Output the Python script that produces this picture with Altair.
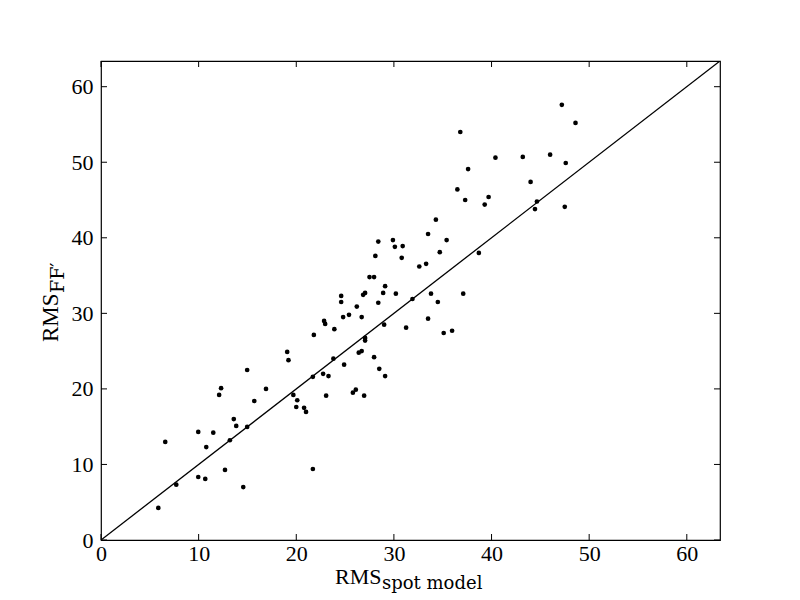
import altair as alt
import pandas as pd

# RMS spot model (x) vs RMS FF' (y)
rms_spot = [5.87, 6.58, 7.71, 9.96, 9.96, 10.68, 10.78, 11.5, 12.1, 12.3, 12.7, 13.2, 13.6, 13.85,
            14.57, 14.97, 14.97, 15.7, 16.9, 19.07, 19.2, 19.7, 20.1, 20.0, 20.8, 21.0, 21.7, 21.7,
            21.8, 22.75, 22.85, 22.96, 23.06, 23.3, 23.9, 23.8, 24.6, 24.6, 24.9, 24.8, 25.4, 25.8,
            26.1, 26.2, 26.4, 26.7, 26.7, 26.95, 27.05, 27.05, 26.85, 27.05, 27.97, 28.4, 28.5, 28.9,
            29.0, 29.1, 30.2, 31.25, 31.9, 33.8, 34.5, 33.5, 35.1, 35.96, 37.1, 27.5, 27.97, 28.1,
            28.4, 29.1, 29.9, 30.1, 30.9, 30.8, 32.6, 33.3, 33.5, 34.3, 34.7, 35.4, 36.5, 36.8,
            37.3, 37.6, 38.7, 39.3, 39.7, 40.4, 43.2, 44.0, 44.45, 44.65, 46.0, 47.2, 47.5, 47.6, 48.6]
rms_ff = [4.24, 12.98, 7.32, 14.3, 8.34, 8.08, 12.3, 14.2, 19.2, 20.1, 9.27, 13.2, 16.0, 15.1,
          7.0, 22.5, 14.97, 18.4, 20.0, 24.9, 23.8, 19.2, 18.5, 17.6, 17.5, 16.95, 9.4, 21.6,
          27.15, 22.0, 29.0, 28.6, 19.1, 21.7, 27.9, 24.0, 32.3, 31.5, 23.2, 29.5, 29.8, 19.5,
          19.9, 30.9, 24.8, 25.0, 29.5, 19.1, 26.75, 26.4, 32.45, 32.7, 24.2, 31.4, 22.65, 32.7,
          28.5, 21.7, 32.6, 28.1, 31.9, 32.6, 31.5, 29.3, 27.4, 27.7, 32.6, 34.8, 34.8, 37.6,
          39.5, 33.6, 39.7, 38.8, 38.9, 37.35, 36.2, 36.55, 40.5, 42.4, 38.1, 39.7, 46.4, 54.0,
          45.0, 49.1, 38.0, 44.4, 45.4, 50.6, 50.7, 47.4, 43.8, 44.8, 51.0, 57.6, 44.1, 49.9, 55.2]
tick_values = [0, 10, 20, 30, 40, 50, 60]
axis_max = 63.4
diag = [0, axis_max]

W, H = 619, 479
FONT = "Liberation Serif"
SUBFONT = "DejaVu Serif"

pts = pd.DataFrame({"x": rms_spot, "y": rms_ff})
ticks = pd.DataFrame({"x": tick_values, "y": tick_values})
line_df = pd.DataFrame({"x": diag, "y": diag})

xs = alt.Scale(domain=[0, axis_max], nice=False, zero=False)
ys = alt.Scale(domain=[0, axis_max], nice=False, zero=False)

xaxis = alt.Axis(values=tick_values, tickSize=0, domain=False, grid=False, title=None,
                 labelFont=FONT, labelFontSize=22, labelColor="black", labelPadding=3,
                 labelFlush=False, labelOverlap=False)
yaxis = alt.Axis(values=tick_values, tickSize=0, domain=False, grid=False, title=None,
                 labelFont=FONT, labelFontSize=22, labelColor="black", labelPadding=8,
                 labelFlush=False, labelOverlap=False)

X = alt.X("x:Q", scale=xs, axis=xaxis)
Y = alt.Y("y:Q", scale=ys, axis=yaxis)

points = alt.Chart(pts).mark_circle(size=22, color="black", opacity=1).encode(x=X, y=Y)

line = alt.Chart(line_df).mark_line(color="black", strokeWidth=1.3, clip=True).encode(x=X, y=Y)

tl = 6
tick_bottom = alt.Chart(ticks).mark_rule(color="black", strokeWidth=1).encode(
    x=X, y=alt.value(H), y2=alt.value(H - tl))
tick_top = alt.Chart(ticks).mark_rule(color="black", strokeWidth=1).encode(
    x=X, y=alt.value(0), y2=alt.value(tl))
tick_left = alt.Chart(ticks).mark_rule(color="black", strokeWidth=1).encode(
    y=Y, x=alt.value(0), x2=alt.value(tl))
tick_right = alt.Chart(ticks).mark_rule(color="black", strokeWidth=1).encode(
    y=Y, x=alt.value(W), x2=alt.value(W - tl))

def label(text, font, size, x, y, angle=0):
    return alt.Chart(pd.DataFrame({"t": [text]})).mark_text(
        font=font, fontSize=size, color="black", align="left", baseline="alphabetic",
        angle=angle,
    ).encode(text="t:N", x=alt.value(x), y=alt.value(y))

xt_main = label("RMS", FONT, 22, 234, 523)
xt_sub = label("spot model", SUBFONT, 18, 281, 528)
yt_main = label("RMS", FONT, 23, -43, 281, angle=270)
yt_sub = label("FF\u2032", SUBFONT, 19, -37, 232, angle=270)

chart = alt.layer(
    points, line, tick_bottom, tick_top, tick_left, tick_right,
    xt_main, xt_sub, yt_main, yt_sub,
).properties(
    width=W, height=H,
    background="white",
    autosize=alt.AutoSizeParams(type="none"),
    padding={"left": 93, "top": 53, "right": 72, "bottom": 55},
).configure_view(stroke="black", strokeWidth=1.2, fill="white")

chart.save("out.html", embed_options={"renderer": "svg", "actions": False})
